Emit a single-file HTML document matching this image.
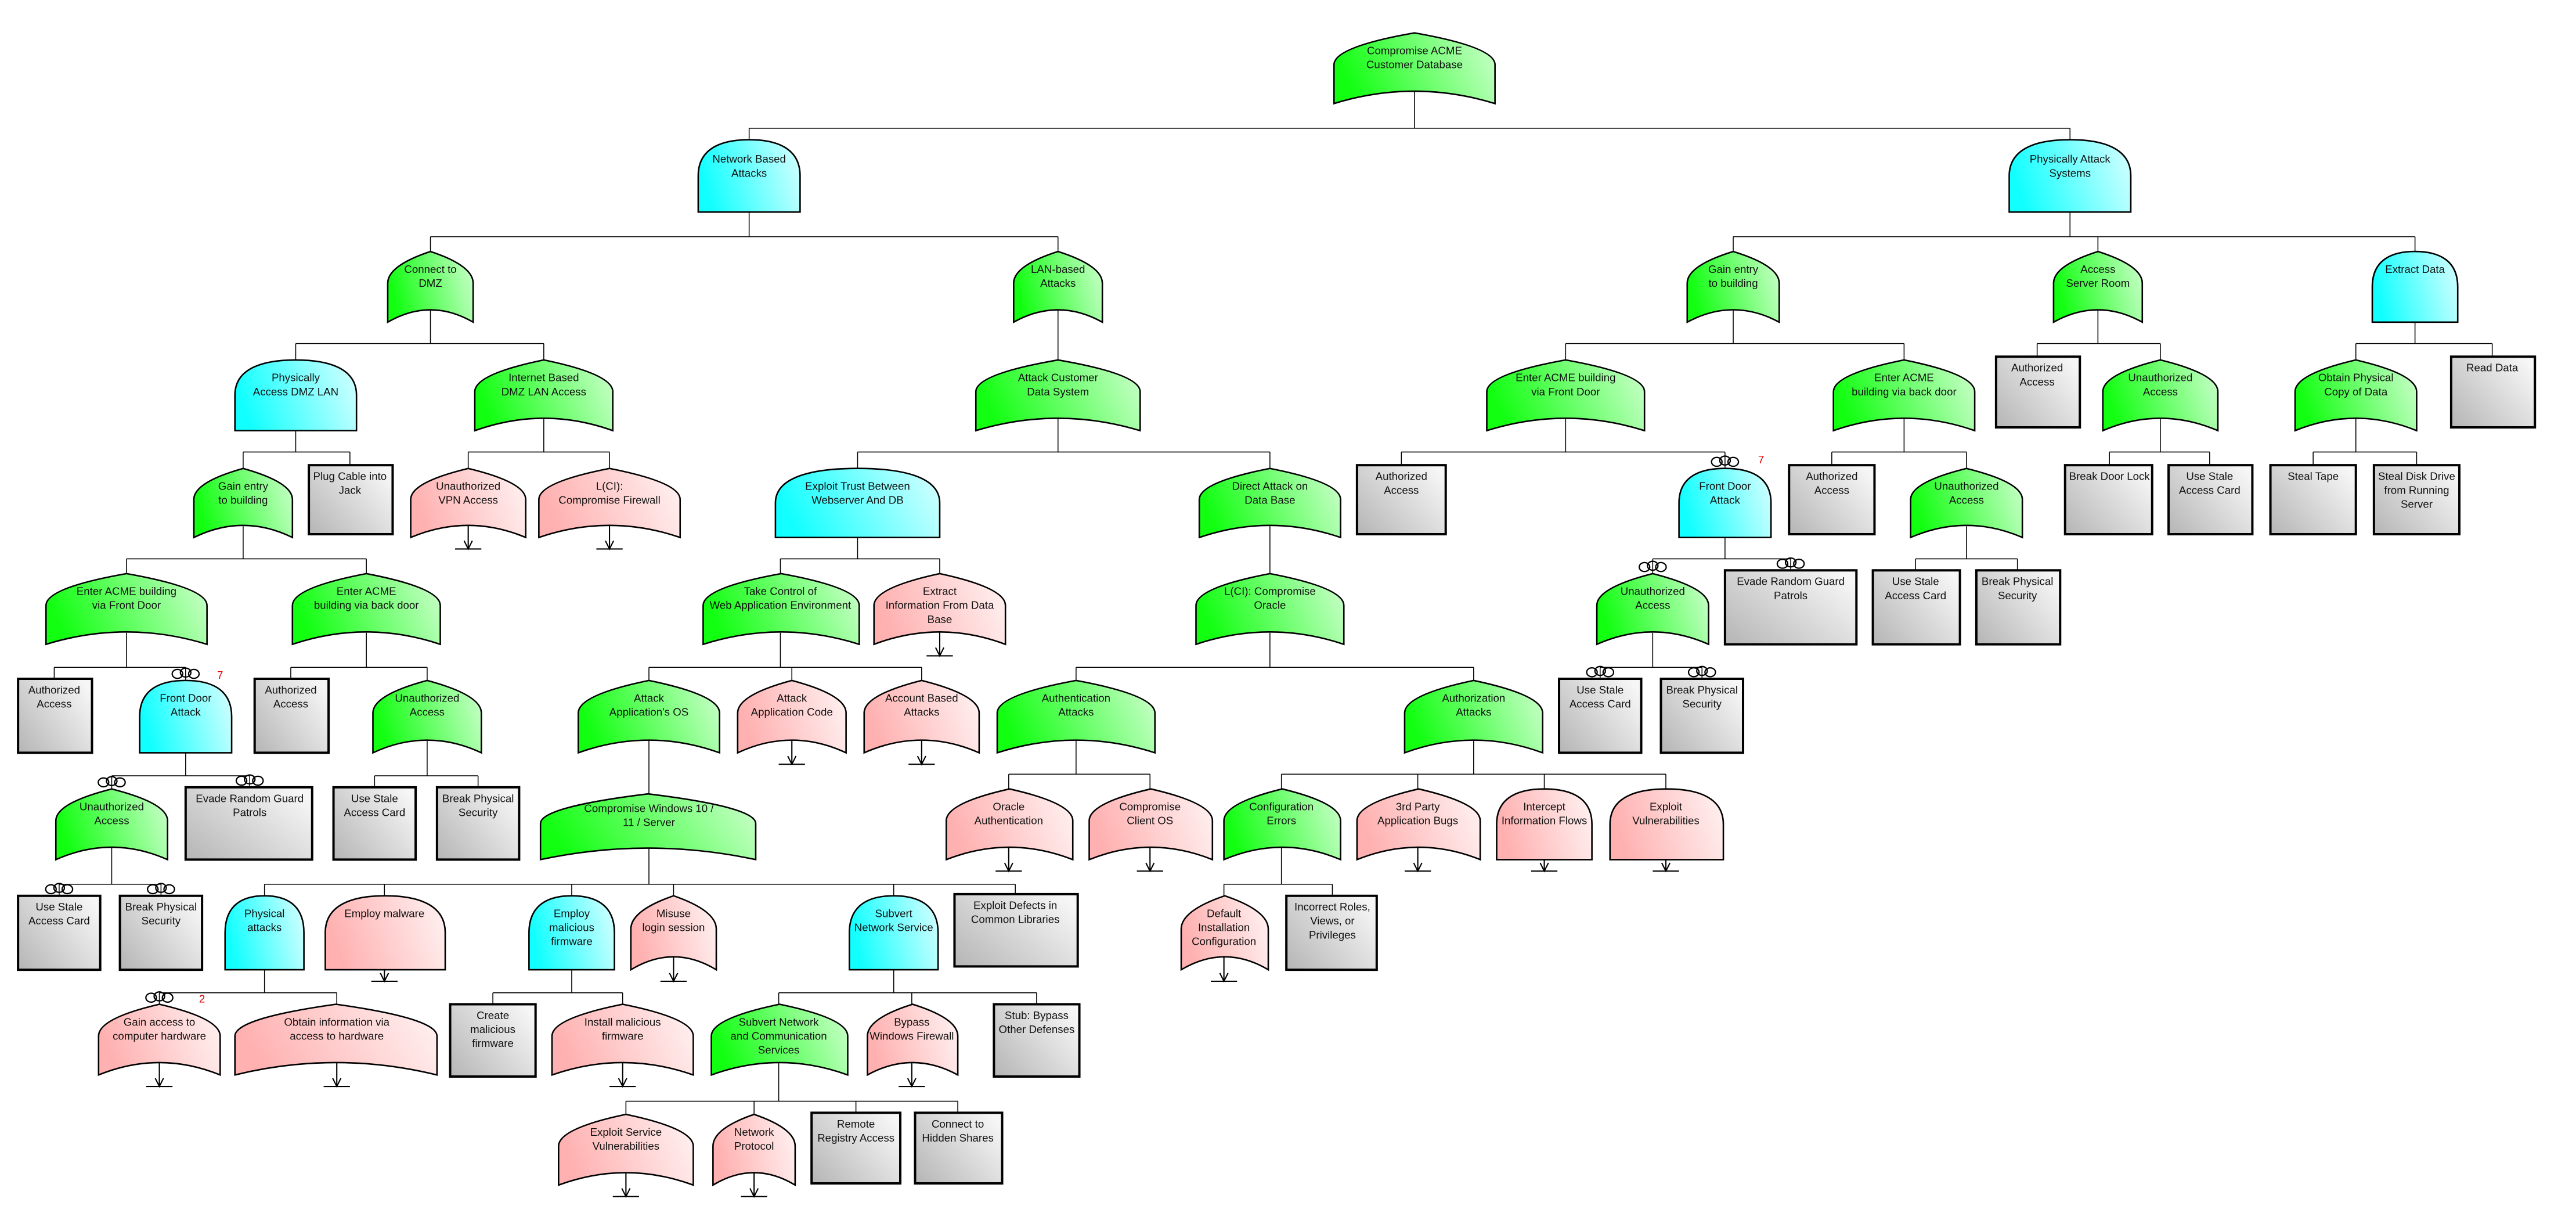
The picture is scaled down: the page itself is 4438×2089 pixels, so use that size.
<!DOCTYPE html>
<html><head><meta charset="utf-8"><style>
html,body{margin:0;padding:0;background:#fff;}
svg{display:block}
text{font-family:"Liberation Sans Narrow","Liberation Sans",sans-serif;font-size:6.6px;fill:#111;text-anchor:middle}
</style></head><body>
<svg width="4438" height="2089" viewBox="0 0 1568 738" preserveAspectRatio="none" xmlns="http://www.w3.org/2000/svg">
<defs>
<linearGradient id="gG" x1="0" y1="0.3" x2="1" y2="0.1"><stop offset="0" stop-color="#12ff12"/><stop offset="1" stop-color="#ccffcc"/></linearGradient>
<linearGradient id="gC" x1="0" y1="0.3" x2="1" y2="0.1"><stop offset="0" stop-color="#12ffff"/><stop offset="1" stop-color="#d6ffff"/></linearGradient>
<linearGradient id="gP" x1="0" y1="0.3" x2="1" y2="0.1"><stop offset="0" stop-color="#ffb0b0"/><stop offset="1" stop-color="#fff2f2"/></linearGradient>
<linearGradient id="gR" x1="0" y1="0.9" x2="1" y2="0.2"><stop offset="0" stop-color="#b8b8b8"/><stop offset="1" stop-color="#f6f6f6"/></linearGradient>
<path id="O" d="M0,1 L0,0.45 Q0,0.2 0.5,0 Q1,0.2 1,0.45 L1,1 Q0.5,0.65 0,1 Z" stroke="#000" stroke-width="2.6" vector-effect="non-scaling-stroke"/>
<path id="A" d="M0,1 L0,0.5 C0,0.1 0.25,0 0.5,0 C0.75,0 1,0.1 1,0.5 L1,1 Z" stroke="#000" stroke-width="2.6" vector-effect="non-scaling-stroke"/>
<path id="R" d="M0,0 H1 V1 H0 Z" stroke="#000" stroke-width="4" vector-effect="non-scaling-stroke"/>
<g id="rg" fill="none" stroke="#000" stroke-width="0.8"><ellipse cx="-5" cy="0" rx="3.2" ry="2.7"/><ellipse cx="0" cy="-0.8" rx="3.2" ry="2.7"/><ellipse cx="5" cy="0" rx="3.2" ry="2.7"/></g>
</defs>

<!-- connectors -->
<path fill="none" stroke="#000" stroke-width="0.55" d="
M861,55.5V78 M456,78H1260 M456,78V85 M1260,78V85
M456,129V144 M262,144H644 M262,144V153 M644,144V153
M1260,129V144 M1055,144H1470 M1055,144V153 M1277,144V153 M1470,144V153
M262,188.5V209 M180,209H331 M180,209V219 M331,209V219
M644,188.5V219
M644,254.5V275 M522,275H773 M522,275V285 M773,275V285
M180,262V275 M148,275H213 M148,275V285 M213,275V283
M331,254.5V275 M285,275H371 M285,275V285 M371,275V285
M148,320V340 M77,340H223 M77,340V349 M223,340V349
M77,385V406 M33,406H113 M33,406V413 M113,406V414
M223,385V406 M177,406H260 M177,406V413 M260,406V414
M113,458V472 M68,472H152 M68,472V480 M152,472V479
M260,450V472 M228,472H291 M228,472V479 M291,472V479
M68,515V538 M36,538H98 M36,538V545 M98,538V545
M522,327V340 M475,340H572 M475,340V349 M572,340V349
M475,385V406 M395,406H561 M395,406V414 M482,406V414 M561,406V414
M395,450V483
M395,515V538 M161,538H618 M161,538V545 M234,538V545 M348,538V545 M410,538V545 M544,538V545 M618,538V544
M161,590V604 M97,604H205 M97,604V611 M205,604V611
M348,590V604 M300,604H379 M300,604V611 M379,604V611
M544,590V604 M474,604H631 M474,604V611 M555,604V611 M631,604V611
M474,646.5V670 M381,670H583 M381,670V678 M459,670V678 M521,670V677 M583,670V677
M773,320V349
M773,385V406 M655,406H897 M655,406V414 M897,406V414
M655,450V471 M614,471H700 M614,471V480 M700,471V480
M897,450V471 M780,471H1014 M780,471V480 M863,471V480 M940,471V480 M1014,471V480
M780,515V538 M745,538H811 M745,538V545 M811,538V545
M1055,188.5V209 M953,209H1159 M953,209V219 M1159,209V219
M953,254.5V275 M853,275H1050 M853,275V283 M1050,275V285
M1159,254.5V275 M1115,275H1197 M1115,275V283 M1197,275V285
M1050,327V340 M1006,340H1090 M1006,340V349 M1090,340V347
M1197,320V340 M1166,340H1228 M1166,340V347 M1228,340V347
M1006,385V406 M974,406H1036 M974,406V413 M1036,406V413
M1277,188.5V209 M1240,209H1315 M1240,209V217 M1315,209V219
M1315,254.5V275 M1284,275H1345 M1284,275V283 M1345,275V283
M1470,196V209 M1434,209H1517 M1434,209V219 M1517,209V217
M1434,254.5V275 M1408,275H1471 M1408,275V283 M1471,275V283
"/>

<!-- transfer arrows -->
<path fill="none" stroke="#000" stroke-width="0.75" d="
M285,319.6V334 M277,334H293 M282.5,329L285,334L287.5,329
M371,319.6V334 M363,334H379 M368.5,329L371,334L373.5,329
M572,384.5V399 M564,399H580 M569.5,394L572,399L574.5,394
M482,450.3V465 M474,465H490 M479.5,460L482,465L484.5,460
M561,450.3V465 M553,465H569 M558.5,460L561,465L563.5,460
M614,515.5V530 M606,530H622 M611.5,525L614,530L616.5,525
M700,515.5V530 M692,530H708 M697.5,525L700,530L702.5,525
M863,515.5V530 M855,530H871 M860.5,525L863,530L865.5,525
M940,523V530 M932,530H948 M937.5,525L940,530L942.5,525
M1014,523V530 M1006,530H1022 M1011.5,525L1014,530L1016.5,525
M234,590V597 M226,597H242 M231.5,592L234,597L236.5,592
M410,582V597 M402,597H418 M407.5,592L410,597L412.5,592
M745,582V597 M737,597H753 M742.5,592L745,597L747.5,592
M97,646.5V661 M89,661H105 M94.5,656L97,661L99.5,656
M205,646.5V661 M197,661H213 M202.5,656L205,661L207.5,656
M379,646.5V661 M371,661H387 M376.5,656L379,661L381.5,656
M555,646.5V661 M547,661H563 M552.5,656L555,661L557.5,656
M381,713.5V728 M373,728H389 M378.5,723L381,728L383.5,723
M459,713.5V728 M451,728H467 M456.5,723L459,728L461.5,723
"/>

<!-- shapes -->
<use href="#O" transform="translate(812 20) scale(98 43)" fill="url(#gG)"/>
<use href="#A" transform="translate(425 85) scale(62 44)" fill="url(#gC)"/>
<use href="#A" transform="translate(1223 85) scale(74 44)" fill="url(#gC)"/>
<use href="#O" transform="translate(236 153) scale(52 43)" fill="url(#gG)"/>
<use href="#O" transform="translate(617 153) scale(54 43)" fill="url(#gG)"/>
<use href="#O" transform="translate(1027 153) scale(56 43)" fill="url(#gG)"/>
<use href="#O" transform="translate(1250 153) scale(54 43)" fill="url(#gG)"/>
<use href="#A" transform="translate(1444 153) scale(52 43)" fill="url(#gC)"/>
<use href="#A" transform="translate(143 219) scale(74 43)" fill="url(#gC)"/>
<use href="#O" transform="translate(289 219) scale(84 43)" fill="url(#gG)"/>
<use href="#O" transform="translate(594 219) scale(100 43)" fill="url(#gG)"/>
<use href="#O" transform="translate(905 219) scale(96 43)" fill="url(#gG)"/>
<use href="#O" transform="translate(1116 219) scale(86 43)" fill="url(#gG)"/>
<use href="#R" transform="translate(1215 217) scale(51 43)" fill="url(#gR)"/>
<use href="#O" transform="translate(1280 219) scale(70 43)" fill="url(#gG)"/>
<use href="#O" transform="translate(1397 219) scale(74 43)" fill="url(#gG)"/>
<use href="#R" transform="translate(1492 217) scale(51 43)" fill="url(#gR)"/>

<use href="#O" transform="translate(118 285) scale(60 42)" fill="url(#gG)"/>
<use href="#R" transform="translate(188 283) scale(51 42)" fill="url(#gR)"/>
<use href="#O" transform="translate(250 285) scale(70 42)" fill="url(#gP)"/>
<use href="#O" transform="translate(328 285) scale(86 42)" fill="url(#gP)"/>
<use href="#A" transform="translate(472 285) scale(100 42)" fill="url(#gC)"/>
<use href="#O" transform="translate(730 285) scale(86 42)" fill="url(#gG)"/>
<use href="#R" transform="translate(826 283) scale(54 42)" fill="url(#gR)"/>
<use href="#A" transform="translate(1022 285) scale(56 42)" fill="url(#gC)"/>
<use href="#R" transform="translate(1089 283) scale(52 42)" fill="url(#gR)"/>
<use href="#O" transform="translate(1163 285) scale(68 42)" fill="url(#gG)"/>
<use href="#R" transform="translate(1257 283) scale(53 42)" fill="url(#gR)"/>
<use href="#R" transform="translate(1320 283) scale(51 42)" fill="url(#gR)"/>
<use href="#R" transform="translate(1382 283) scale(52 42)" fill="url(#gR)"/>
<use href="#R" transform="translate(1445 283) scale(52 42)" fill="url(#gR)"/>

<use href="#O" transform="translate(28 349) scale(98 43)" fill="url(#gG)"/>
<use href="#O" transform="translate(178 349) scale(90 43)" fill="url(#gG)"/>
<use href="#O" transform="translate(428 349) scale(95 43)" fill="url(#gG)"/>
<use href="#O" transform="translate(532 349) scale(80 43)" fill="url(#gP)"/>
<use href="#O" transform="translate(728 349) scale(90 43)" fill="url(#gG)"/>
<use href="#O" transform="translate(972 349) scale(68 43)" fill="url(#gG)"/>
<use href="#R" transform="translate(1050 347) scale(80 45)" fill="url(#gR)"/>
<use href="#R" transform="translate(1140 347) scale(53 45)" fill="url(#gR)"/>
<use href="#R" transform="translate(1203 347) scale(51 45)" fill="url(#gR)"/>

<use href="#R" transform="translate(11 413) scale(45 45)" fill="url(#gR)"/>
<use href="#A" transform="translate(85 414) scale(56 44)" fill="url(#gC)"/>
<use href="#R" transform="translate(155 413) scale(45 45)" fill="url(#gR)"/>
<use href="#O" transform="translate(227 414) scale(66 44)" fill="url(#gG)"/>
<use href="#O" transform="translate(352 414) scale(86 44)" fill="url(#gG)"/>
<use href="#O" transform="translate(449 414) scale(66 44)" fill="url(#gP)"/>
<use href="#O" transform="translate(526 414) scale(70 44)" fill="url(#gP)"/>
<use href="#O" transform="translate(607 414) scale(96 44)" fill="url(#gG)"/>
<use href="#O" transform="translate(855 414) scale(84 44)" fill="url(#gG)"/>
<use href="#R" transform="translate(949 413) scale(50 45)" fill="url(#gR)"/>
<use href="#R" transform="translate(1011 413) scale(50 45)" fill="url(#gR)"/>

<use href="#O" transform="translate(34 480) scale(68 43)" fill="url(#gG)"/>
<use href="#R" transform="translate(113 479) scale(77 44)" fill="url(#gR)"/>
<use href="#R" transform="translate(203 479) scale(50 44)" fill="url(#gR)"/>
<use href="#R" transform="translate(266 479) scale(50 44)" fill="url(#gR)"/>
<use href="#O" transform="translate(329 483) scale(131 40)" fill="url(#gG)"/>
<use href="#O" transform="translate(576 480) scale(77 43)" fill="url(#gP)"/>
<use href="#O" transform="translate(663 480) scale(75 43)" fill="url(#gP)"/>
<use href="#O" transform="translate(745 480) scale(71 43)" fill="url(#gG)"/>
<use href="#O" transform="translate(826 480) scale(75 43)" fill="url(#gP)"/>
<use href="#A" transform="translate(911 480) scale(58 43)" fill="url(#gP)"/>
<use href="#A" transform="translate(980 480) scale(69 43)" fill="url(#gP)"/>

<use href="#R" transform="translate(11 545) scale(50 45)" fill="url(#gR)"/>
<use href="#R" transform="translate(73 545) scale(50 45)" fill="url(#gR)"/>
<use href="#A" transform="translate(137 545) scale(48 45)" fill="url(#gC)"/>
<use href="#A" transform="translate(198 545) scale(73 45)" fill="url(#gP)"/>
<use href="#A" transform="translate(322 545) scale(52 45)" fill="url(#gC)"/>
<use href="#O" transform="translate(384 545) scale(52 45)" fill="url(#gP)"/>
<use href="#A" transform="translate(517 545) scale(54 45)" fill="url(#gC)"/>
<use href="#R" transform="translate(581 544) scale(75 44)" fill="url(#gR)"/>
<use href="#O" transform="translate(719 545) scale(53 45)" fill="url(#gP)"/>
<use href="#R" transform="translate(783 545) scale(55 45)" fill="url(#gR)"/>

<use href="#O" transform="translate(60 611) scale(74 43)" fill="url(#gP)"/>
<use href="#O" transform="translate(143 611) scale(123 43)" fill="url(#gP)"/>
<use href="#R" transform="translate(274 611) scale(52 44)" fill="url(#gR)"/>
<use href="#O" transform="translate(336 611) scale(86 43)" fill="url(#gP)"/>
<use href="#O" transform="translate(433 611) scale(83 43)" fill="url(#gG)"/>
<use href="#O" transform="translate(528 611) scale(55 43)" fill="url(#gP)"/>
<use href="#R" transform="translate(605 611) scale(52 44)" fill="url(#gR)"/>

<use href="#O" transform="translate(340 678) scale(82 43)" fill="url(#gP)"/>
<use href="#O" transform="translate(434 678) scale(50 43)" fill="url(#gP)"/>
<use href="#R" transform="translate(494 677) scale(54 43)" fill="url(#gR)"/>
<use href="#R" transform="translate(557 677) scale(53 43)" fill="url(#gR)"/>

<!-- rings -->
<use href="#rg" x="113" y="410"/>
<use href="#rg" x="68" y="476"/>
<use href="#rg" x="152" y="475"/>
<use href="#rg" x="36" y="541"/>
<use href="#rg" x="98" y="541"/>
<use href="#rg" x="97" y="607"/>
<use href="#rg" x="1050" y="281"/>
<use href="#rg" x="1006" y="345"/>
<use href="#rg" x="1090" y="343"/>
<use href="#rg" x="974" y="409"/>
<use href="#rg" x="1036" y="409"/>
<text x="134" y="413" style="fill:#e00000">7</text>
<text x="123" y="610" style="fill:#e00000">2</text>
<text x="1072" y="282" style="fill:#e00000">7</text>

<!-- labels -->
<text x="861" y="33">Compromise ACME</text><text x="861" y="41.5">Customer Database</text>
<text x="456" y="99">Network Based</text><text x="456" y="107.5">Attacks</text>
<text x="1260" y="99">Physically Attack</text><text x="1260" y="107.5">Systems</text>
<text x="262" y="166">Connect to</text><text x="262" y="174.5">DMZ</text>
<text x="644" y="166">LAN-based</text><text x="644" y="174.5">Attacks</text>
<text x="1055" y="166">Gain entry</text><text x="1055" y="174.5">to building</text>
<text x="1277" y="166">Access</text><text x="1277" y="174.5">Server Room</text>
<text x="1470" y="166">Extract Data</text>
<text x="180" y="232">Physically</text><text x="180" y="240.5">Access DMZ LAN</text>
<text x="331" y="232">Internet Based</text><text x="331" y="240.5">DMZ LAN Access</text>
<text x="644" y="232">Attack Customer</text><text x="644" y="240.5">Data System</text>
<text x="953" y="232">Enter ACME building</text><text x="953" y="240.5">via Front Door</text>
<text x="1159" y="232">Enter ACME</text><text x="1159" y="240.5">building via back door</text>
<text x="1240" y="226">Authorized</text><text x="1240" y="234.5">Access</text>
<text x="1315" y="232">Unauthorized</text><text x="1315" y="240.5">Access</text>
<text x="1434" y="232">Obtain Physical</text><text x="1434" y="240.5">Copy of Data</text>
<text x="1517" y="226">Read Data</text>

<text x="148" y="298">Gain entry</text><text x="148" y="306.5">to building</text>
<text x="213" y="292">Plug Cable into</text><text x="213" y="300.5">Jack</text>
<text x="285" y="298">Unauthorized</text><text x="285" y="306.5">VPN Access</text>
<text x="371" y="298">L(CI):</text><text x="371" y="306.5">Compromise Firewall</text>
<text x="522" y="298">Exploit Trust Between</text><text x="522" y="306.5">Webserver And DB</text>
<text x="773" y="298">Direct Attack on</text><text x="773" y="306.5">Data Base</text>
<text x="853" y="292">Authorized</text><text x="853" y="300.5">Access</text>
<text x="1050" y="298">Front Door</text><text x="1050" y="306.5">Attack</text>
<text x="1115" y="292">Authorized</text><text x="1115" y="300.5">Access</text>
<text x="1197" y="298">Unauthorized</text><text x="1197" y="306.5">Access</text>
<text x="1284" y="292">Break Door Lock</text>
<text x="1345" y="292">Use Stale</text><text x="1345" y="300.5">Access Card</text>
<text x="1408" y="292">Steal Tape</text>
<text x="1471" y="292">Steal Disk Drive</text><text x="1471" y="300.5">from Running</text><text x="1471" y="309">Server</text>

<text x="77" y="362">Enter ACME building</text><text x="77" y="370.5">via Front Door</text>
<text x="223" y="362">Enter ACME</text><text x="223" y="370.5">building via back door</text>
<text x="475" y="362">Take Control of</text><text x="475" y="370.5">Web Application Environment</text>
<text x="572" y="362">Extract</text><text x="572" y="370.5">Information From Data</text><text x="572" y="379">Base</text>
<text x="773" y="362">L(CI): Compromise</text><text x="773" y="370.5">Oracle</text>
<text x="1006" y="362">Unauthorized</text><text x="1006" y="370.5">Access</text>
<text x="1090" y="356">Evade Random Guard</text><text x="1090" y="364.5">Patrols</text>
<text x="1166" y="356">Use Stale</text><text x="1166" y="364.5">Access Card</text>
<text x="1228" y="356">Break Physical</text><text x="1228" y="364.5">Security</text>

<text x="33" y="422">Authorized</text><text x="33" y="430.5">Access</text>
<text x="113" y="427">Front Door</text><text x="113" y="435.5">Attack</text>
<text x="177" y="422">Authorized</text><text x="177" y="430.5">Access</text>
<text x="260" y="427">Unauthorized</text><text x="260" y="435.5">Access</text>
<text x="395" y="427">Attack</text><text x="395" y="435.5">Application's OS</text>
<text x="482" y="427">Attack</text><text x="482" y="435.5">Application Code</text>
<text x="561" y="427">Account Based</text><text x="561" y="435.5">Attacks</text>
<text x="655" y="427">Authentication</text><text x="655" y="435.5">Attacks</text>
<text x="897" y="427">Authorization</text><text x="897" y="435.5">Attacks</text>
<text x="974" y="422">Use Stale</text><text x="974" y="430.5">Access Card</text>
<text x="1036" y="422">Break Physical</text><text x="1036" y="430.5">Security</text>

<text x="68" y="493">Unauthorized</text><text x="68" y="501.5">Access</text>
<text x="152" y="488">Evade Random Guard</text><text x="152" y="496.5">Patrols</text>
<text x="228" y="488">Use Stale</text><text x="228" y="496.5">Access Card</text>
<text x="291" y="488">Break Physical</text><text x="291" y="496.5">Security</text>
<text x="395" y="494">Compromise Windows 10 /</text><text x="395" y="502.5">11 / Server</text>
<text x="614" y="493">Oracle</text><text x="614" y="501.5">Authentication</text>
<text x="700" y="493">Compromise</text><text x="700" y="501.5">Client OS</text>
<text x="780" y="493">Configuration</text><text x="780" y="501.5">Errors</text>
<text x="863" y="493">3rd Party</text><text x="863" y="501.5">Application Bugs</text>
<text x="940" y="493">Intercept</text><text x="940" y="501.5">Information Flows</text>
<text x="1014" y="493">Exploit</text><text x="1014" y="501.5">Vulnerabilities</text>

<text x="36" y="554">Use Stale</text><text x="36" y="562.5">Access Card</text>
<text x="98" y="554">Break Physical</text><text x="98" y="562.5">Security</text>
<text x="161" y="558">Physical</text><text x="161" y="566.5">attacks</text>
<text x="234" y="558">Employ malware</text>
<text x="348" y="558">Employ</text><text x="348" y="566.5">malicious</text><text x="348" y="575">firmware</text>
<text x="410" y="558">Misuse</text><text x="410" y="566.5">login session</text>
<text x="544" y="558">Subvert</text><text x="544" y="566.5">Network Service</text>
<text x="618" y="553">Exploit Defects in</text><text x="618" y="561.5">Common Libraries</text>
<text x="745" y="558">Default</text><text x="745" y="566.5">Installation</text><text x="745" y="575">Configuration</text>
<text x="811" y="554">Incorrect Roles,</text><text x="811" y="562.5">Views, or</text><text x="811" y="571">Privileges</text>

<text x="97" y="624">Gain access to</text><text x="97" y="632.5">computer hardware</text>
<text x="205" y="624">Obtain  information via</text><text x="205" y="632.5">access to hardware</text>
<text x="300" y="620">Create</text><text x="300" y="628.5">malicious</text><text x="300" y="637">firmware</text>
<text x="379" y="624">Install malicious</text><text x="379" y="632.5">firmware</text>
<text x="474" y="624">Subvert Network</text><text x="474" y="632.5">and Communication</text><text x="474" y="641">Services</text>
<text x="555" y="624">Bypass</text><text x="555" y="632.5">Windows Firewall</text>
<text x="631" y="620">Stub: Bypass</text><text x="631" y="628.5">Other Defenses</text>

<text x="381" y="691">Exploit Service</text><text x="381" y="699.5">Vulnerabilities</text>
<text x="459" y="691">Network</text><text x="459" y="699.5">Protocol</text>
<text x="521" y="686">Remote</text><text x="521" y="694.5">Registry Access</text>
<text x="583" y="686">Connect to</text><text x="583" y="694.5">Hidden Shares</text>
</svg>
</body></html>
